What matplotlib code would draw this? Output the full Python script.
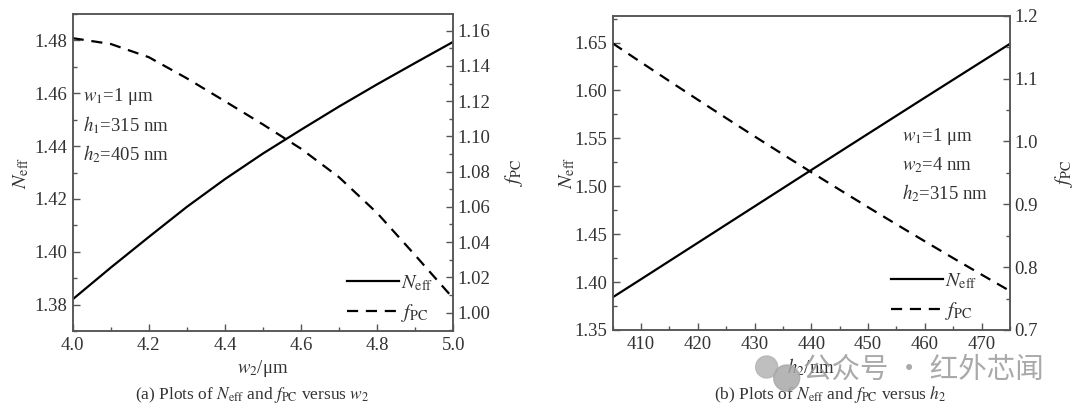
import matplotlib
matplotlib.use("Agg")
import matplotlib.pyplot as plt
from matplotlib.ticker import MultipleLocator
from matplotlib.patches import Ellipse

plt.rcParams['font.family'] = ['Liberation Serif', 'DejaVu Serif']
plt.rcParams['mathtext.fontset'] = 'stix'

# panel (a): versus w2
w2 = [4.0, 4.1, 4.2, 4.3, 4.4, 4.5, 4.6, 4.7, 4.8, 4.9, 5.0]
neff_a = [1.3820, 1.3940, 1.4056, 1.4170, 1.4275, 1.4372, 1.4462, 1.4550, 1.4634, 1.4715, 1.4795]
fpc_a = [1.1558, 1.1525, 1.1450, 1.1330, 1.1200, 1.1068, 1.0930, 1.0768, 1.0565, 1.0325, 1.0080]

# panel (b): versus h2
h2_n = [405, 410, 420, 430, 440, 450, 460, 470, 475]
neff_b = [1.3841, 1.4030, 1.4410, 1.4790, 1.5170, 1.5548, 1.5925, 1.6300, 1.6487]
h2_f = [405, 410, 415, 420, 425, 430, 435, 440, 445, 450, 455, 460, 465, 470, 475]
fpc_b = [1.1560, 1.1258, 1.0959, 1.0663, 1.0370, 1.0080, 0.9793, 0.9510, 0.9230,
         0.8953, 0.8680, 0.8410, 0.8143, 0.7880, 0.7620]

params_a = [r'$w_1$=1 μm', r'$h_1$=315 nm', r'$h_2$=405 nm']
params_b = [r'$w_1$=1 μm', r'$w_2$=4 nm', r'$h_2$=315 nm']

txt = '#333333'
spine = '#555555'
fs = 13.5

fig = plt.figure(figsize=(10.8, 4.13), dpi=100)
ax1 = fig.add_axes([0.0673, 0.1985, 0.3524, 0.7675])
ax2 = fig.add_axes([0.5673, 0.2010, 0.3679, 0.7610])


def style(ax, right=False):
    for s in ax.spines.values():
        s.set_color(spine)
        s.set_linewidth(1.1)
    ax.tick_params(which='both', direction='in', colors=spine, labelcolor=txt,
                   labelsize=fs, top=False, width=1.0)
    ax.tick_params(which='major', length=5)
    ax.tick_params(which='minor', length=3)
    if right:
        ax.tick_params(axis='y', which='both', left=False, right=True, pad=3)
    else:
        ax.tick_params(axis='y', which='both', right=False, pad=4)
        ax.tick_params(axis='x', which='both', pad=4)


def panel(ax, x1, y1, x2, y2, xlim, ylim, ylim2, xmaj, ymaj, ymaj2, xlabel,
          params, ptxt_x, ptxt_y, leg_xy, lab1, lab2):
    axr = ax.twinx()
    l1, = ax.plot(x1, y1, color='black', lw=1.6, label=r'$N_{\rm eff}$')
    l2, = axr.plot(x2, y2, color='black', lw=1.6, dashes=(5, 3.5), label=r'$f_{\rm PC}$')
    ax.set_xlim(*xlim)
    ax.set_ylim(*ylim)
    axr.set_ylim(*ylim2)
    ax.xaxis.set_major_locator(MultipleLocator(xmaj))
    ax.xaxis.set_minor_locator(MultipleLocator(xmaj / 2))
    ax.yaxis.set_major_locator(MultipleLocator(ymaj))
    ax.yaxis.set_minor_locator(MultipleLocator(ymaj / 2))
    axr.yaxis.set_major_locator(MultipleLocator(ymaj2))
    axr.yaxis.set_minor_locator(MultipleLocator(ymaj2 / 2))
    style(ax)
    style(axr, right=True)
    ax.set_xlabel(xlabel, fontsize=fs, color=txt, labelpad=3)
    ax.set_ylabel(r'$N_{\rm eff}$', fontsize=fs + 1, color=txt)
    axr.set_ylabel(r'$f_{\rm PC}$', fontsize=fs + 1, color=txt)
    ax.yaxis.set_label_coords(lab1, 0.5)
    axr.yaxis.set_label_coords(lab2, 0.5)
    for t, yy in zip(params, ptxt_y):
        ax.text(ptxt_x, yy, t, transform=ax.transAxes, fontsize=fs, color=txt,
                ha='left', va='center')
    axr.legend([l1, l2], [l1.get_label(), l2.get_label()], loc='lower left',
               bbox_to_anchor=leg_xy, frameon=False, fontsize=fs + 1,
               handlelength=2.6, handletextpad=0.1, labelspacing=0.45,
               borderpad=0, borderaxespad=0, labelcolor=txt)
    return axr


panel(ax1, w2, neff_a, w2, fpc_a, (4.0, 5.0), (1.37, 1.49), (0.9895, 1.1695),
      0.2, 0.02, 0.02, r'$w_2$/μm', params_a, 0.027, [0.741, 0.650, 0.558],
      (0.72, 0.022), -0.11, 1.13)
panel(ax2, h2_n, neff_b, h2_f, fpc_b, (405, 475), (1.35, 1.678), (0.7, 1.2),
      10, 0.05, 0.1, r'$h_2$/nm', params_b, 0.728, [0.617, 0.525, 0.435],
      (0.70, 0.024), -0.088, 1.109)

fig.text(0.233, 0.0436, r'(a) Plots of $N_{\rm eff}$ and $f_{\rm PC}$ versus $w_2$',
         fontsize=12.5, color=txt, ha='center', va='center')
fig.text(0.7685, 0.0436, r'(b) Plots of $N_{\rm eff}$ and $f_{\rm PC}$ versus $h_2$',
         fontsize=12.5, color=txt, ha='center', va='center')

# watermark
wm = '#9a9a9a'
fig.add_artist(Ellipse((0.7099, 0.1114), 0.0204, 0.0533, transform=fig.transFigure,
                       color='#b4b4b4', alpha=0.85, zorder=10))
fig.add_artist(Ellipse((0.7284, 0.0847), 0.0240, 0.0630, transform=fig.transFigure,
                       color='#a8a8a8', alpha=0.85, zorder=10))
fig.text(0.7435, 0.104, '公众号 · 红外芯闻', fontsize=20.5, color=wm, alpha=0.85,
         family=['Noto Sans CJK SC', 'DejaVu Sans'], ha='left', va='center', zorder=11)

fig.savefig('out.png', dpi=100)
